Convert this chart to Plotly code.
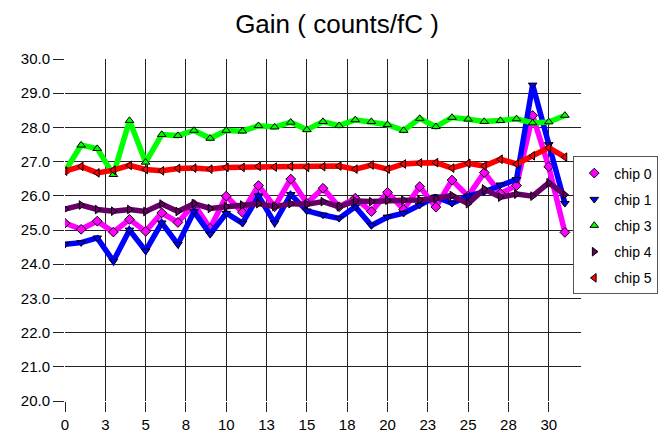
import plotly.graph_objects as go

x_index = list(range(32))
series_names = ["chip 0", "chip 1", "chip 3", "chip 4", "chip 5"]

chip0 = [25.20, 25.02, 25.26, 24.94, 25.31, 24.96, 25.50, 25.22, 25.75, 25.05,
         25.99, 25.52, 26.30, 25.68, 26.49, 25.78, 26.22, 25.68, 25.93, 25.54,
         26.10, 25.60, 26.27, 25.67, 26.46, 25.99, 26.68, 26.07, 26.30, 28.35,
         26.85, 24.93]
chip1 = [24.58, 24.63, 24.77, 24.09, 25.00, 24.39, 25.21, 24.58, 25.54, 24.88,
         25.49, 25.20, 26.00, 25.21, 26.04, 25.56, 25.44, 25.34, 25.68, 25.13,
         25.38, 25.49, 25.73, 25.97, 25.78, 25.99, 26.12, 26.32, 26.48, 29.24,
         27.50, 25.78]
chip3 = [26.72, 27.48, 27.38, 26.62, 28.20, 26.98, 27.79, 27.76, 27.91, 27.68,
         27.91, 27.89, 28.05, 28.01, 28.15, 27.93, 28.17, 28.05, 28.22, 28.17,
         28.08, 27.91, 28.26, 28.02, 28.29, 28.24, 28.17, 28.20, 28.25, 28.13,
         28.16, 28.35]
chip4 = [25.61, 25.73, 25.60, 25.55, 25.60, 25.54, 25.76, 25.54, 25.77, 25.63,
         25.68, 25.73, 25.77, 25.68, 25.77, 25.75, 25.83, 25.68, 25.85, 25.83,
         25.87, 25.87, 25.88, 25.92, 26.01, 25.77, 26.20, 25.96, 26.05, 25.99,
         26.38, 26.03]
chip5 = [26.72, 26.86, 26.67, 26.75, 26.89, 26.77, 26.73, 26.80, 26.81, 26.78,
         26.83, 26.83, 26.86, 26.84, 26.86, 26.83, 26.85, 26.87, 26.78, 26.90,
         26.78, 26.93, 26.96, 26.97, 26.81, 26.95, 26.87, 27.07, 26.93, 27.17,
         27.41, 27.13]

x_tick_vals = [0, 2.5, 5, 7.5, 10, 12.5, 15, 17.5, 20, 22.5, 25, 27.5, 30]
x_tick_text = ["0", "3", "5", "8", "10", "13", "15", "18", "20", "23", "25", "28", "30"]
y_tick_vals = list(range(20, 31))

series_values = [chip0, chip1, chip3, chip4, chip5]
colors = ["#FF00FF", "#0000FF", "#00FF00", "#660066", "#FF0000"]
symbols = ["diamond", "triangle-down", "triangle-up", "triangle-right", "triangle-left"]

fig = go.Figure()
for name, vals, col, sym in zip(series_names, series_values, colors, symbols):
    fig.add_trace(go.Scatter(
        x=x_index, y=vals, mode="lines", name=name,
        line=dict(color=col, width=5.5), showlegend=False, hoverinfo="skip",
    ))
    fig.add_trace(go.Scatter(
        x=x_index, y=vals, mode="markers", name=name, legendgroup=name,
        marker=dict(symbol=sym, color=col, size=7.5, line=dict(color="black", width=1)),
    ))

font_family = "Liberation Sans, Arial, sans-serif"
fig.update_layout(
    width=670, height=439,
    margin=dict(l=65, r=72, t=59, b=38),
    paper_bgcolor="white", plot_bgcolor="white",
    font=dict(family=font_family, size=15, color="black"),
    title=dict(text="Gain ( counts/fC )", x=0.503, xanchor="center",
               y=1 - 15 / 439, yanchor="top",
               font=dict(family=font_family, size=26, color="black")),
    legend=dict(x=0.985, xanchor="left", y=0.715, yanchor="top",
                bordercolor="#555555", borderwidth=1, bgcolor="white",
                font=dict(family=font_family, size=14, color="black"),
                tracegroupgap=5, itemwidth=30),
    xaxis=dict(range=[0, 32], tickmode="array", tickvals=x_tick_vals, ticktext=x_tick_text,
               showgrid=True, gridcolor="#222222", gridwidth=1, zeroline=False,
               ticks="outside", ticklen=10, tickcolor="#222222",
               showline=False, tickfont=dict(size=15), automargin=False),
    yaxis=dict(range=[20, 30], tickmode="array", tickvals=y_tick_vals, tickformat=".1f",
               showgrid=True, gridcolor="#222222", gridwidth=1, zeroline=False,
               ticks="outside", ticklen=11, tickcolor="#222222",
               showline=False, tickfont=dict(size=15), automargin=False),
)

fig.write_html(
    "out.html",
    config={"displayModeBar": False},
    post_script="document.body.style.margin='0';document.body.style.padding='0';"
                "document.documentElement.style.overflow='hidden';",
)
